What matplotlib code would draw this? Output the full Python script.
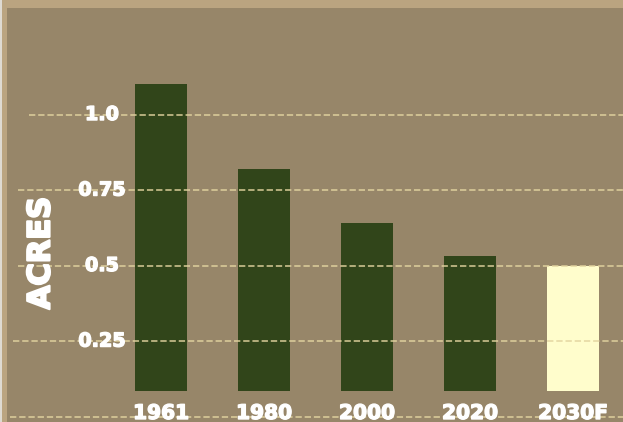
import matplotlib
matplotlib.use("Agg")
import matplotlib.pyplot as plt
import matplotlib.patheffects as pe
from matplotlib.patches import Rectangle

# Arable land per person (acres)
years = ["1961", "1980", "2000", "2020", "2030F"]
acres = [1.10, 0.82, 0.64, 0.53, 0.50]
forecast = [False, False, False, False, True]
tick_values = [0.25, 0.5, 0.75, 1.0]
tick_labels = ["0.25", "0.5", "0.75", "1.0"]

BAR_BASE = 0.085
GREEN = "#31451a"
CREAM = "#fffdcc"
PANEL = "#978669"
FRAME = "#baa480"
GRID = "#e3d49f"

W, H, DPI = 623, 422, 100
fig = plt.figure(figsize=(W / DPI, H / DPI), dpi=DPI, facecolor=FRAME)
fig.patches.append(Rectangle((0, 0), 2 / W, 1, transform=fig.transFigure,
                             facecolor="#dedad2", edgecolor="none"))

ax = fig.add_axes([7 / W, 0, 1 - 7 / W + 0.01, (H - 8) / H])
ax.set_facecolor(PANEL)
for s in ax.spines.values():
    s.set_visible(False)
ax.set_xticks([])
ax.set_yticks([])

ax.set_xlim(-1.495, 4.485 + 0.01 * W / 103)
ax.set_ylim(-0.018, 1.3527)

x = list(range(len(years)))
colors = [CREAM if f else GREEN for f in forecast]
ax.bar(x, [v - BAR_BASE for v in acres], bottom=BAR_BASE, width=0.5,
       color=colors, zorder=2)

# dashed guide lines, starting at slightly different left offsets
grid_levels = [0.0] + tick_values
grid_starts = [0.005, 0.010, 0.018, 0.018, 0.035]
for lvl, xs in zip(grid_levels, grid_starts):
    ax.axhline(lvl, xmin=xs, xmax=1, color=GRID, lw=1.3, ls=(0, (3.5, 1.6)),
               alpha=0.8, zorder=3)

heavy = [pe.withStroke(linewidth=1.0, foreground="white")]
heavy_big = [pe.withStroke(linewidth=1.6, foreground="white")]

for v, lab in zip(tick_values, tick_labels):
    ax.text(-0.573, v, lab, ha="center", va="center", color="white",
            fontsize=13.8, fontweight="bold", family="DejaVu Sans", zorder=4,
            path_effects=heavy)

for xi, lab in zip(x, years):
    ax.text(xi, -0.008, lab, ha="center", va="baseline", color="white",
            fontsize=14.5, fontweight="bold", family="DejaVu Sans", zorder=4,
            path_effects=heavy)

ax.text(-1.165, 0.541, "ACRES", rotation=90, ha="center", va="center",
        color="white", fontsize=22, fontweight="bold", family="DejaVu Sans",
        zorder=4, path_effects=heavy_big)

fig.savefig("out.png", dpi=DPI, facecolor=FRAME)
